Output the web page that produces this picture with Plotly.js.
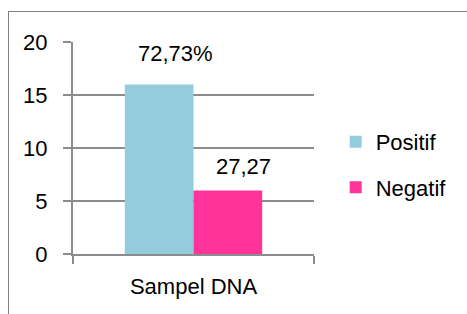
<!DOCTYPE html>
<html>
<head>
<meta charset="utf-8">
<script src="https://cdn.plot.ly/plotly-3.0.1.min.js"></script>
<style>
  html, body { margin: 0; padding: 0; background: #fff; }
  #wrap { position: relative; width: 467px; height: 314px; overflow: hidden; }
  #chart { position: absolute; left: 0; top: 0; width: 467px; height: 314px; }
  #frame { position: absolute; left: 8px; top: 11px; width: 600px; height: 400px;
           border-left: 1px solid #808080; border-top: 1px solid #808080; pointer-events: none; }
</style>
</head>
<body>
<div id="wrap">
  <div id="chart"></div>
  <div id="frame"></div>
</div>
<script>
const categories = ['Sampel DNA'];
const seriesNames = ['Positif', 'Negatif'];
const positifValues = [16];
const negatifValues = [6];
const dataLabels = ['72,73%', '27,27'];
const yTickVals = [0, 5, 10, 15, 20];

const FONT = '"Liberation Sans", Arial, sans-serif';
const colors = ['#93CDDD', '#FF3399'];
const seriesValues = [positifValues, negatifValues];

const W = 467, H = 314;
const margin = { l: 73, r: 153, t: 42, b: 60, pad: 0 };
const bargap = 0.43;
const plotW = W - margin.l - margin.r;
const barPx = plotW * (1 - bargap) / seriesNames.length;

const traces = seriesNames.map((name, i) => ({
  type: 'bar',
  name: name,
  x: categories,
  y: seriesValues[i],
  marker: { color: colors[i], line: { width: 0 } },
  legendgroup: name,
  hoverinfo: 'skip'
}));

const annotations = seriesNames.map((name, i) => ({
  xref: 'x', yref: 'y',
  x: categories[0],
  y: seriesValues[i][0],
  text: dataLabels[i],
  showarrow: false,
  xanchor: 'center', yanchor: 'bottom',
  xshift: (i - (seriesNames.length - 1) / 2) * barPx + 16,
  yshift: i === 0 ? 16 : 9,
  font: { family: FONT, size: 22, color: '#000' }
}));

const layout = {
  width: W, height: H,
  margin: margin,
  paper_bgcolor: '#fff', plot_bgcolor: '#fff',
  barmode: 'group', bargap: bargap, bargroupgap: 0,
  font: { family: FONT, size: 22, color: '#000' },
  showlegend: true,
  legend: {
    x: 1.09, xanchor: 'left', y: 0.42, yanchor: 'middle',
    font: { family: FONT, size: 22, color: '#000' },
    traceorder: 'grouped', tracegroupgap: 14,
    bgcolor: 'rgba(0,0,0,0)'
  },
  xaxis: {
    type: 'category',
    showline: true, linecolor: '#8c8c8c', linewidth: 2,
    ticks: 'outside', tickson: 'boundaries', ticklen: 8, tickwidth: 2, tickcolor: '#8c8c8c',
    showgrid: false, zeroline: false,
    tickfont: { family: FONT, size: 22, color: '#000' },
    ticklabelstandoff: 12,
    fixedrange: true
  },
  yaxis: {
    range: [0, 20],
    tickvals: yTickVals,
    ticktext: yTickVals.map(String),
    showline: true, linecolor: '#8c8c8c', linewidth: 2,
    ticks: 'outside', ticklen: 8, tickwidth: 2, tickcolor: '#8c8c8c',
    showgrid: true, gridcolor: '#8c8c8c', gridwidth: 2,
    zeroline: false,
    tickfont: { family: FONT, size: 22, color: '#000' },
    ticklabelstandoff: 11,
    fixedrange: true
  },
  annotations: annotations
};

Plotly.newPlot('chart', traces, layout, { displayModeBar: false, staticPlot: true });
</script>
</body>
</html>
